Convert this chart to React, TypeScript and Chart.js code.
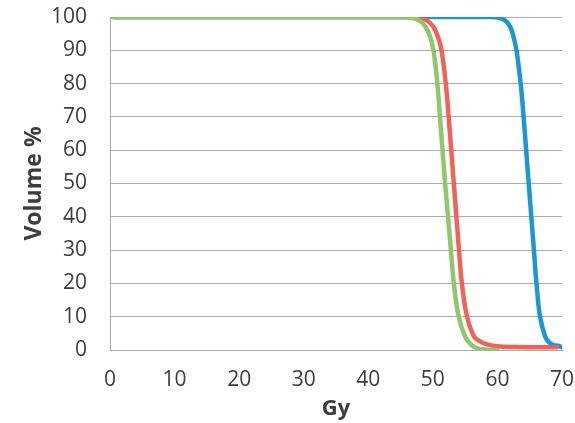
import { useEffect, useRef } from "react";
import { Chart, registerables } from "chart.js";

Chart.register(...registerables);

// Dose-volume histogram: three structures, dose in Gy vs. volume %
const greenDose = [0.5, 10, 20, 30, 40, 45.5, 47.0, 48.0, 48.8, 49.5, 50.1, 50.7, 51.1, 51.5, 51.9, 52.35, 52.8, 53.25, 54.0, 55.0, 55.8, 56.9, 58.5, 60];
const greenVolume = [100, 100, 100, 100, 100, 100, 99.6, 98.8, 97.2, 94.5, 90, 80, 70, 60, 50, 40, 30, 20, 10, 4, 1.8, 0.5, 0.1, 0];

const redDose = [0.5, 10, 20, 30, 40, 46.5, 48.1, 49.2, 50.1, 50.8, 51.35, 52.0, 52.45, 52.85, 53.25, 53.65, 54.05, 54.5, 55.3, 56.4, 57.3, 58.4, 60, 63, 66, 69.2];
const redVolume = [100, 100, 100, 100, 100, 100, 99.6, 98.8, 97, 94, 90, 80, 70, 60, 50, 40, 30, 20, 10, 4, 2.6, 1.7, 1.1, 0.9, 0.8, 0.8];

const blueDose = [0.5, 10, 20, 30, 40, 50, 59, 60.5, 61.3, 62.0, 62.5, 62.95, 63.6, 64.05, 64.45, 64.85, 65.25, 65.65, 66.05, 66.6, 67.4, 68.0, 68.7, 69.4, 70];
const blueVolume = [100, 100, 100, 100, 100, 100, 100, 99.6, 98.8, 97, 94, 90, 80, 70, 60, 50, 40, 30, 20, 10, 4, 2.3, 1.5, 1.3, 0.8];

const doseTicks = [0, 10, 20, 30, 40, 50, 60, 70];
const volumeTicks = [0, 10, 20, 30, 40, 50, 60, 70, 80, 90, 100];

const toPoints = (xs: number[], ys: number[]) => xs.map((x, i) => ({ x, y: ys[i] }));

const TEXT = "#3d3d3d";
const GRID = "#acacac";
const FONT = "'Open Sans', sans-serif";

export default function App() {
  const canvasRef = useRef<HTMLCanvasElement | null>(null);

  useEffect(() => {
    if (!canvasRef.current) return;
    const line = (data: { x: number; y: number }[], color: string) => ({
      data,
      borderColor: color,
      backgroundColor: color,
      borderWidth: 4.5,
      borderCapStyle: "round" as const,
      borderJoinStyle: "round" as const,
      pointRadius: 0,
      fill: false,
      tension: 0.4,
    });
    const chart = new Chart(canvasRef.current, {
      type: "line",
      data: {
        datasets: [
          line(toPoints(greenDose, greenVolume), "#8fc76a"),
          line(toPoints(redDose, redVolume), "#f0625c"),
          line(toPoints(blueDose, blueVolume), "#1e96d4"),
        ],
      },
      options: {
        animation: false,
        responsive: false,
        maintainAspectRatio: false,
        layout: { padding: { top: 17, right: 13, left: 0, bottom: 0 } },
        plugins: { legend: { display: false }, tooltip: { enabled: false } },
        scales: {
          x: {
            type: "linear",
            min: 0,
            max: 70,
            afterBuildTicks: (scale: any) => {
              scale.ticks = doseTicks.map((v) => ({ value: v }));
            },
            afterFit: (scale: any) => {
              scale.height = 73;
              scale.paddingLeft = 0;
              scale.paddingRight = 0;
            },
            grid: { display: false, drawTicks: false },
            border: { display: true, color: GRID, width: 1 },
            ticks: { color: TEXT, font: { family: FONT, size: 21 }, padding: 17, maxRotation: 0 },
            title: {
              display: true,
              text: "Gy",
              color: TEXT,
              font: { family: FONT, size: 22, weight: "bold" },
              padding: { top: 0, bottom: 1 },
            },
          },
          y: {
            type: "linear",
            min: 0,
            max: 100,
            afterBuildTicks: (scale: any) => {
              scale.ticks = volumeTicks.map((v) => ({ value: v }));
            },
            afterFit: (scale: any) => {
              scale.width = 110;
              scale.paddingTop = 0;
              scale.paddingBottom = 0;
            },
            grid: { display: true, drawTicks: false, color: GRID, lineWidth: 1 },
            border: { display: true, color: GRID, width: 1 },
            ticks: { color: TEXT, font: { family: FONT, size: 21 }, padding: 23 },
            title: {
              display: true,
              text: "Volume %",
              color: TEXT,
              font: { family: FONT, size: 23, weight: "bold" },
              padding: { top: 21, bottom: 0 },
            },
          },
        },
      },
    });
    return () => chart.destroy();
  }, []);

  return (
    <div style={{ position: "fixed", left: 0, top: 0, width: 575, height: 423, background: "#fff" }}>
      <canvas ref={canvasRef} width={575} height={423} style={{ display: "block" }} />
    </div>
  );
}
